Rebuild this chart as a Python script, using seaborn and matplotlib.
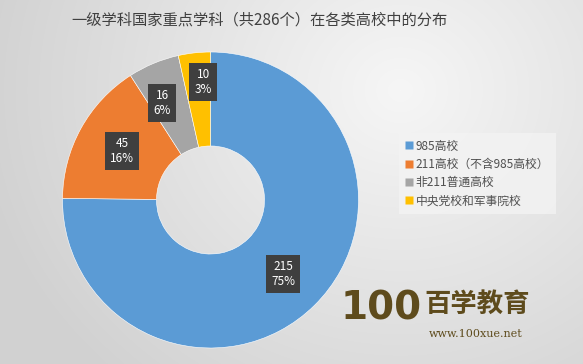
import numpy as np
import matplotlib
matplotlib.use("Agg")
import matplotlib.pyplot as plt
import seaborn as sns
from matplotlib.lines import Line2D

sns.set_theme(style="white")
plt.rcParams['font.family'] = ['Noto Sans CJK SC', 'DejaVu Sans']

# ---- data ----
title = "一级学科国家重点学科（共286个）在各类高校中的分布"
categories = ["985高校", "211高校（不含985高校）", "非211普通高校", "中央党校和军事院校"]
values = [215, 45, 16, 10]
colors = ["#5B9BD5", "#ED7D31", "#A5A5A5", "#FFC000"]

W, H = 583, 364
fig = plt.figure(figsize=(W / 100, H / 100), dpi=100)

# background radial gradient
bg = fig.add_axes([0, 0, 1, 1], zorder=-10)
yy, xx = np.mgrid[0:H, 0:W]
d = np.sqrt((xx - 400) ** 2 + ((yy - 90) * 1.1) ** 2)
t = np.clip(d / 430, 0, 1)
c0, c1 = 0.965, 0.82
img = c0 + (c1 - c0) * t
bg.imshow(np.dstack([img, img, img]), extent=[0, W, H, 0], aspect='auto')
bg.set_xlim(0, W)
bg.set_ylim(H, 0)
bg.axis('off')

# donut
cx, cy, R = 210.5, 200, 148
ax = fig.add_axes([(cx - R) / W, (H - cy - R) / H, 2 * R / W, 2 * R / H])
ax.set_facecolor('none')
wedges, _ = ax.pie(values, colors=colors, startangle=90, counterclock=False,
                   radius=1.0,
                   wedgeprops=dict(width=0.635, edgecolor='white', linewidth=0.4))
ax.set_xlim(-1, 1)
ax.set_ylim(-1, 1)
ax.axis('off')

total = sum(values)
label_r = [0.70, 0.68, 0.73, 0.80]
ang_shift = [0, 0, 4.0, -2.7]
for w, v, r, s in zip(wedges, values, label_r, ang_shift):
    mid = np.deg2rad((w.theta1 + w.theta2) / 2 + s)
    x, y = r * np.cos(mid), r * np.sin(mid)
    ax.text(x, y, f"{v}\n{round(v / total * 100)}%", ha='center', va='center',
            color='white', fontsize=8.5, linespacing=1.2,
            bbox=dict(boxstyle='square,pad=0.42', fc='#3F3F3F', ec='none'))

# title
fig.text(260 / W, 1 - 20 / H, title, ha='center', va='center', fontsize=11, color='#404040')

# legend
handles = [Line2D([], [], marker='s', linestyle='none', markersize=6,
                  markerfacecolor=c, markeredgecolor='none') for c in colors]
leg = fig.legend(handles, categories, loc='upper left',
                 bbox_to_anchor=(399 / W, 1 - 133 / H), frameon=True,
                 fontsize=8.5, handlelength=0.6, handletextpad=0.25,
                 labelspacing=0.45, borderpad=0.55, borderaxespad=0,
                 fancybox=False)
leg.get_frame().set_facecolor('#F3F3F3')
leg.get_frame().set_edgecolor('none')
leg.get_frame().set_alpha(0.8)
for txt in leg.get_texts():
    txt.set_color('#505050')

# watermark
brown = '#5E4B1C'
fig.text(381 / W, 1 - 309 / H, "100", ha='center', va='center', fontsize=28,
         fontweight='bold', color=brown, family=['DejaVu Sans'])
fig.text(477 / W, 1 - 304 / H, "百学教育", ha='center', va='center', fontsize=19,
         color=brown, fontweight='bold')
fig.text(476 / W, 1 - 334 / H, "www.100xue.net", ha='center', va='center', fontsize=8,
         color=brown, family=['DejaVu Serif'])

fig.savefig("out.png", dpi=100)
